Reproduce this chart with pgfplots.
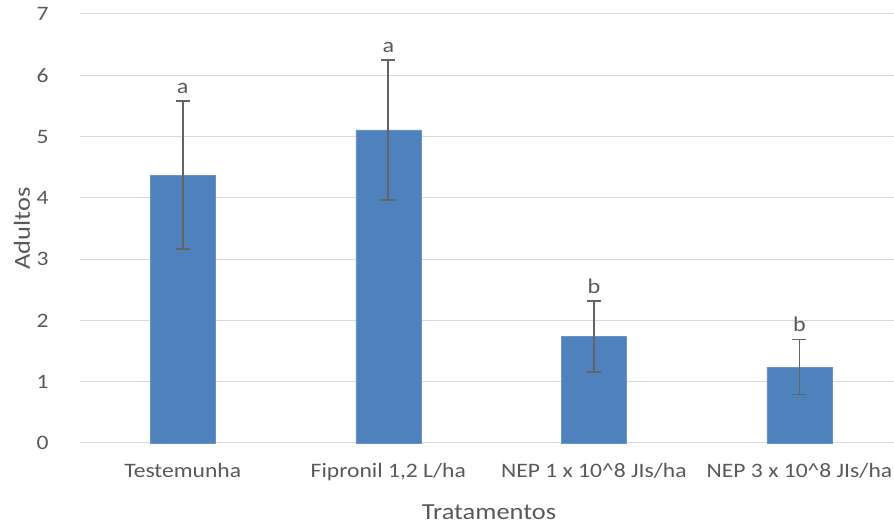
\documentclass[border=0pt]{standalone}
\usepackage{pgfplots}
\pgfplotsset{compat=1.18}
\usepackage{fontspec}
\setmainfont{Carlito}[FakeStretch=1.15]
\definecolor{barblue}{RGB}{79,129,189}
\definecolor{txtgray}{RGB}{89,89,89}
\definecolor{gridgray}{RGB}{217,217,217}
\definecolor{errgray}{RGB}{100,100,100}
\begin{document}
\begin{tikzpicture}
\useasboundingbox (-80pt,-83pt) rectangle (814pt,443pt);
\begin{axis}[
  at={(0,0)}, anchor=south west,
  scale only axis, width=814pt, height=429pt,
  xmin=-0.5, xmax=3.46, ymin=0, ymax=7,
  xtick={0,1,2,3},
  xticklabels={Testemunha, {Fipronil 1,2 L/ha}, {NEP 1 x 10\^{}8 JIs/ha}, {NEP 3 x 10\^{}8 JIs/ha}},
  ytick={0,1,...,7},
  ymajorgrids, grid style={gridgray, line width=1pt},
  axis line style={draw=none},
  major tick length=0pt,
  tick label style={font=\fontsize{20.5}{24}\selectfont, text=txtgray},
  yticklabel style={xshift=-28pt},
  xticklabel style={yshift=-17pt},
  /pgf/number format/assume math mode=true,
  xlabel={Tratamentos},
  ylabel={Adultos},
  label style={font=\fontsize{23}{26}\selectfont, text=txtgray},
  xlabel style={at={(axis description cs:0.5,0)}, anchor=center, yshift=-69pt, xshift=2pt},
  ylabel style={at={(axis description cs:0,0.5)}, anchor=center, yshift=58pt},
  clip=false,
]
\addplot[ybar, bar width=0.316, fill=barblue, draw=barblue!85!white,
  error bars/.cd, y dir=both, y explicit,
  error bar style={errgray, line width=1.8pt},
  error mark options={errgray, line width=1.8pt, mark size=7pt, rotate=90}]
  coordinates {
  (0,4.37) +- (0,1.21)
  (1,5.11) +- (0,1.14)
  (2,1.74) +- (0,0.58)
  (3,1.24) +- (0,0.45)
};
\addplot[only marks, mark=none,
  nodes near coords, point meta=explicit symbolic,
  every node near coord/.append style={font=\fontsize{21}{24}\selectfont, text=txtgray, anchor=south, yshift=4pt}]
  coordinates {
  (0,5.58) [a]
  (1,6.25) [a]
  (2,2.32) [b]
  (3,1.69) [b]
};
\end{axis}
\end{tikzpicture}
\end{document}
